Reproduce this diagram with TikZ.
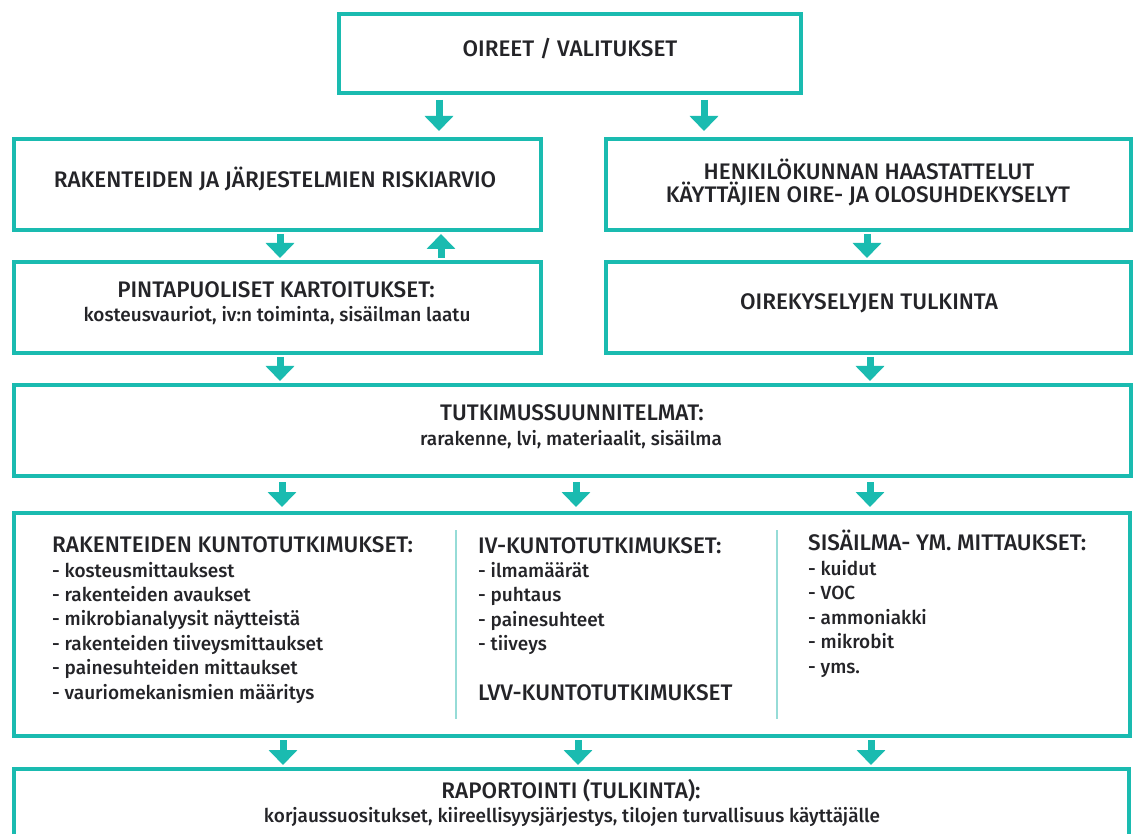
\documentclass[tikz,border=0pt]{standalone}
\usepackage{fontspec}
\IfFontExistsTF{Fira Sans Medium}{\setmainfont{Fira Sans Medium}}{\setmainfont{Lato}}
\usetikzlibrary{arrows.meta}
\definecolor{tealc}{RGB}{26,187,176}
\definecolor{txtc}{RGB}{36,36,40}
\definecolor{divc}{RGB}{150,220,215}
\begin{document}
\begin{tikzpicture}[x=1pt,y=-1pt,
  box/.style={draw=tealc, line width=4pt, fill=white, rectangle, inner sep=0pt},
  flow/.style={draw=tealc, line width=7pt, -{Triangle[width=28pt,length=15pt]}, shorten <=2pt, shorten >=2pt},
  lbl/.style={text=txtc, font=\fontsize{22.5}{26}\selectfont, inner sep=0pt},
  sub/.style={text=txtc, font=\fontsize{19}{22}\selectfont, inner sep=0pt},
  divline/.style={draw=divc, line width=2.5pt}]
\useasboundingbox (0,0) rectangle (1133,834);
\clip (0,0) rectangle (1133,834);
\fill[white] (0,0) rectangle (1133,834);
% boxes
\node[box, minimum width=462pt, minimum height=79pt] (top) at (570,53.5) {};
\node[box, minimum width=527pt, minimum height=91pt] (risk) at (277.5,184.5) {};
\node[box, minimum width=525pt, minimum height=91pt] (henk) at (868.5,184.5) {};
\node[box, minimum width=527pt, minimum height=91pt] (pint) at (277.5,307.5) {};
\node[box, minimum width=525pt, minimum height=91pt] (oire) at (868.5,307.5) {};
\node[box, minimum width=1117pt, minimum height=91pt] (tutk) at (572.5,430.5) {};
\node[box, minimum width=1116pt, minimum height=223pt] (big) at (572,624.5) {};
\node[box, minimum width=1115pt, minimum height=101pt] (rap) at (571.5,819.5) {};
% arrow x positions
\coordinate (xa) at (439,0);
\coordinate (xb) at (704,0);
\coordinate (xc) at (280,0);
\coordinate (xd) at (441,0);
\coordinate (xe) at (867,0);
\coordinate (xf) at (282,0);
\coordinate (xg) at (576,0);
\coordinate (xh) at (870,0);
\coordinate (xi) at (283,0);
\coordinate (xj) at (578,0);
\coordinate (xk) at (871,0);
% arrows
\draw[flow, shorten <=5pt, shorten >=6pt] (top.south -| xa) -- (risk.north -| xa);
\draw[flow, shorten <=5pt, shorten >=6pt] (top.south -| xb) -- (henk.north -| xb);
\draw[flow] (risk.south -| xc) -- (pint.north -| xc);
\draw[flow] (pint.north -| xd) -- (risk.south -| xd);
\draw[flow] (henk.south -| xe) -- (oire.north -| xe);
\draw[flow] (pint.south -| xc) -- (tutk.north -| xc);
\draw[flow] (oire.south -| xh) -- (tutk.north -| xh);
\draw[flow, shorten <=4pt, shorten >=4pt] (tutk.south -| xf) -- (big.north -| xf);
\draw[flow, shorten <=4pt, shorten >=4pt] (tutk.south -| xg) -- (big.north -| xg);
\draw[flow, shorten <=4pt, shorten >=4pt] (tutk.south -| xh) -- (big.north -| xh);
\draw[flow] (big.south -| xi) -- (rap.north -| xi);
\draw[flow] (big.south -| xj) -- (rap.north -| xj);
\draw[flow] (big.south -| xk) -- (rap.north -| xk);
% dividers
\coordinate (d1a) at (456,530); \coordinate (d1b) at (456,719);
\coordinate (d2a) at (777,530); \coordinate (d2b) at (777,719);
\draw[divline] (d1a) -- (d1b);
\draw[divline] (d2a) -- (d2b);
% texts
\node[lbl, anchor=base] (t1) at (570,57) {OIREET / VALITUKSET};
\node[lbl, anchor=base] (t2) at (275,188) {RAKENTEIDEN JA JÄRJESTELMIEN RISKIARVIO};
\node[lbl, anchor=base] (t3a) at (869,180) {HENKILÖKUNNAN HAASTATTELUT};
\node[lbl, anchor=base] (t3b) at (868,203) {KÄYTTÄJIEN OIRE- JA OLOSUHDEKYSELYT};
\node[lbl, anchor=base] (t4a) at (276,298) {PINTAPUOLISET KARTOITUKSET:};
\node[sub, anchor=base] (t4b) at (277,322) {kosteusvauriot, iv:n toiminta, sisäilman laatu};
\node[lbl, anchor=base] (t5) at (869,310) {OIREKYSELYJEN TULKINTA};
\node[lbl, anchor=base] (t6a) at (572,420) {TUTKIMUSSUUNNITELMAT:};
\node[sub, anchor=base] (t6b) at (571,445) {rarakenne, lvi, materiaalit, sisäilma};
\node[lbl, anchor=base] (t7a) at (571,798) {RAPORTOINTI (TULKINTA):};
\node[sub, anchor=base] (t7b) at (572,822) {korjaussuositukset, kiireellisyysjärjestys, tilojen turvallisuus käyttäjälle};
% column 1
\node[lbl, anchor=base west] (c1h) at (52,552) {RAKENTEIDEN KUNTOTUTKIMUKSET:};
\foreach \t [count=\i] in {- kosteusmittauksest, - rakenteiden avaukset, - mikrobianalyysit näytteistä, - rakenteiden tiiveysmittaukset, - painesuhteiden mittaukset, - vauriomekanismien määritys}
  \node[sub, anchor=base west] (c1-\i) at (52,{577+24.4*(\i-1)}) {\t};
% column 2
\node[lbl, anchor=base west] (c2h) at (478,553) {IV-KUNTOTUTKIMUKSET:};
\foreach \t [count=\i] in {- ilmamäärät, - puhtaus, - painesuhteet, - tiiveys}
  \node[sub, anchor=base west] (c2-\i) at (478,{577+24.6*(\i-1)}) {\t};
\node[lbl, anchor=base west] (c2l) at (478,700) {LVV-KUNTOTUTKIMUKSET};
% column 3
\node[lbl, anchor=base west] (c3h) at (808,550) {SISÄILMA- YM. MITTAUKSET:};
\foreach \t [count=\i] in {- kuidut, - VOC, - ammoniakki, - mikrobit, - yms.}
  \node[sub, anchor=base west] (c3-\i) at (808,{575+24.5*(\i-1)}) {\t};
\end{tikzpicture}
\end{document}
